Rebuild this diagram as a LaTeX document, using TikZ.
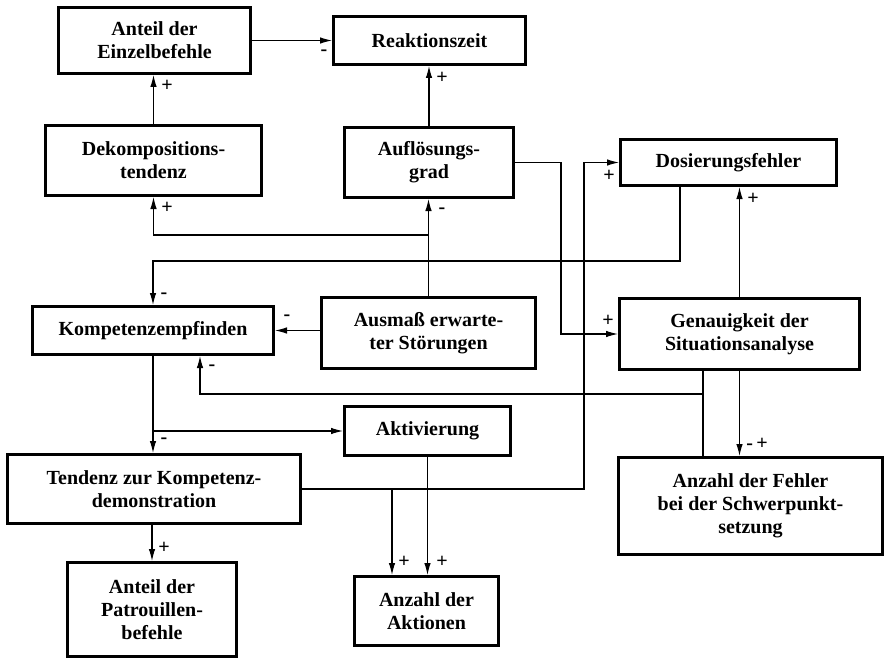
\documentclass[tikz,border=0pt]{standalone}
\usepackage{fontspec}
\setmainfont{Liberation Serif}
\usetikzlibrary{arrows.meta}
\begin{document}
\begin{tikzpicture}[x=1pt,y=-1pt,
  box/.style={draw, line width=3pt, align=center, inner sep=0pt,
    font=\fontsize{20}{23}\selectfont\bfseries},
  arr/.style={line width=1.1pt, -{Latex[length=12pt,width=6.5pt]}},
  ln/.style={line width=1.1pt},
  lbl/.style={font=\fontsize{20}{20}\selectfont\bfseries, inner sep=0pt}]
\fill[white] (0,0) rectangle (887,661);
\useasboundingbox (0,0) rectangle (887,661);

% boxes
\node[box, minimum width=192pt, minimum height=66pt] (einzel) at (154.5,40.5) {Anteil der\\Einzelbefehle};
\node[box, minimum width=192pt, minimum height=48pt] (reakt) at (429.5,40.5) {Reaktionszeit};
\node[box, minimum width=216pt, minimum height=70pt] (dekomp) at (153.5,160.5) {Dekompositions-\\tendenz};
\node[box, minimum width=169pt, minimum height=70pt] (aufl) at (429,162.5) {Auflösungs-\\grad};
\node[box, minimum width=216pt, minimum height=46pt] (dosier) at (728.5,162.5) {Dosierungsfehler};
\node[box, minimum width=241pt, minimum height=48pt] (kompet) at (153,330.5) {Kompetenzempfinden};
\node[box, minimum width=214pt, minimum height=71pt] (ausmass) at (428.5,333) {Ausmaß erwarte-\\ter Störungen};
\node[box, minimum width=240pt, minimum height=71pt] (genau) at (739.5,334) {Genauigkeit der\\Situationsanalyse};
\node[box, minimum width=166pt, minimum height=49pt] (aktiv) at (427.5,431) {Aktivierung};
\node[box, minimum width=293pt, minimum height=69pt] (tendenz) at (154,489) {Tendenz zur Kompetenz-\\demonstration};
\node[box, minimum width=264pt, minimum height=97pt] (fehler) at (750.5,506) {Anzahl der Fehler\\bei der Schwerpunkt-\\setzung};
\node[box, minimum width=169pt, minimum height=94pt] (patr) at (152,609.5) {Anteil der\\Patrouillen-\\befehle};
\node[box, minimum width=144pt, minimum height=69pt] (aktionen) at (426.5,611) {Anzahl der\\Aktionen};

% connectors
\draw[arr] (einzel.east) -- (reakt.west);
\draw[arr] (dekomp.north) -- (dekomp.north |- einzel.south);
\draw[arr] (aufl.north) -- (aufl.north |- reakt.south);
\draw[arr] (ausmass.north) -- (ausmass.north |- aufl.south);
\coordinate (jA) at (ausmass.north |- 0,235);
\draw[arr] (jA) -| (dekomp.south);
\draw[arr] (dosier.south -| 680,0) -- (680,261) -| (kompet.north);
\draw[arr] (ausmass.west |- kompet.east) -- (kompet.east);
\draw[arr] (aufl.east) -- (aufl.east -| 561,0) |- (genau.west);
\draw[arr] (tendenz.east) -- (tendenz.east -| 584,0) |- (dosier.west);
\coordinate (jB) at (tendenz.east -| 392,0);
\draw[arr] (jB) -- (aktionen.north -| 392,0);
\draw[arr] (genau.north) -- (genau.north |- dosier.south);
\draw[ln] (fehler.north -| 703,0) -- (genau.south -| 703,0);
\coordinate (jC) at (703,394);
\draw[arr] (jC) -| (kompet.south -| 200,0);
\draw[arr] (genau.south) -- (genau.south |- fehler.north);
\draw[arr] (kompet.south) -- (kompet.south |- tendenz.north);
\coordinate (jD) at (kompet.south |- aktiv.west);
\draw[arr] (jD) -- (aktiv.west);
\draw[arr] (aktiv.south) -- (aktiv.south |- aktionen.north);
\draw[arr] (tendenz.south -| patr.north) -- (patr.north);

% signs
\node[lbl] (s1) at (324,53) {-};
\node[lbl] (s2) at (167,86) {+};
\node[lbl] (s3) at (442,78) {+};
\node[lbl] (s4) at (442,211) {-};
\node[lbl] (s5) at (167,208) {+};
\node[lbl] (s6) at (164,296) {-};
\node[lbl] (s7) at (287,318) {-};
\node[lbl] (s8) at (608,321) {+};
\node[lbl] (s9) at (609,176) {+};
\node[lbl] (s10) at (404,562) {+};
\node[lbl] (s11) at (753,199) {+};
\node[lbl] (s12) at (212,368) {-};
\node[lbl] (s13) at (757,444) {-\,+};
\node[lbl] (s14) at (164,441) {-};
\node[lbl] (s15) at (442,562) {+};
\node[lbl] (s16) at (164,548) {+};
\end{tikzpicture}
\end{document}
